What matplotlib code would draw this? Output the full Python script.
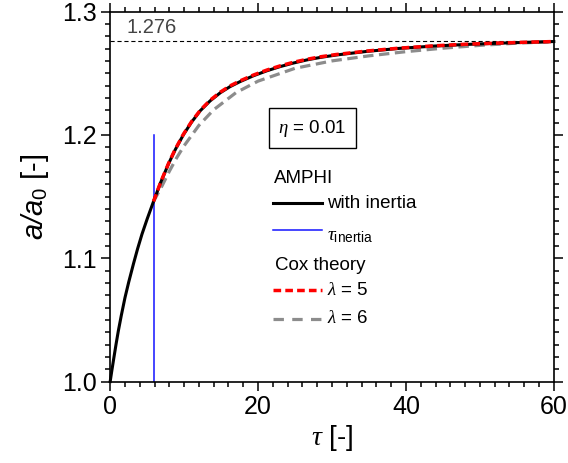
import matplotlib
matplotlib.use("Agg")
import matplotlib.pyplot as plt
from matplotlib.ticker import MultipleLocator, FormatStrFormatter

plt.rcParams['font.family'] = ['Liberation Sans', 'DejaVu Sans']
plt.rcParams['mathtext.fontset'] = 'custom'
plt.rcParams['mathtext.rm'] = 'Liberation Sans'
plt.rcParams['mathtext.it'] = 'Liberation Serif:italic'
plt.rcParams['mathtext.sf'] = 'Liberation Sans:italic'
plt.rcParams['lines.scale_dashes'] = False

# AMPHI simulation with inertia
tau_amphi = [0, 0.2, 0.45, 0.8, 1.1, 1.5, 2.0, 2.5, 3.15, 3.7, 4.3, 5.0, 5.86,
             6.8, 7.9, 8.8, 9.9, 11.0, 12.2, 13.5, 14.9, 16.2, 17.6, 19.4,
             21.2, 23.0, 24.8, 26.6, 28.4, 30.6, 34.7, 39.0, 43.7, 48.0,
             52.7, 56.0, 60.0]
a_amphi = [1.000, 1.008, 1.0175, 1.0305, 1.041, 1.0535, 1.068, 1.0805,
           1.0955, 1.1075, 1.1195, 1.1318, 1.146, 1.161, 1.1767, 1.188,
           1.2001, 1.2103, 1.2197, 1.2275, 1.2342, 1.2391, 1.2433, 1.248,
           1.252, 1.2554, 1.2583, 1.2608, 1.2628, 1.2648, 1.2677, 1.2701,
           1.272, 1.2733, 1.2744, 1.275, 1.2757]

# Cox theory, lambda = 5
tau_cox5 = [5.86, 6.8, 7.9, 8.8, 9.9, 11.0, 12.2, 13.5, 14.9, 16.2, 17.6,
            19.4, 21.2, 23.0, 24.8, 26.6, 28.4, 30.6, 34.7, 39.0, 43.7, 48.0,
            52.7, 56.0, 60.0]
a_cox5 = [1.146, 1.1612, 1.177, 1.1884, 1.2005, 1.2107, 1.2201, 1.228,
          1.2347, 1.2397, 1.2439, 1.2486, 1.2526, 1.256, 1.2589, 1.2613,
          1.2633, 1.2652, 1.268, 1.2703, 1.2722, 1.2735, 1.2745, 1.2751, 1.2757]

# Cox theory, lambda = 6
tau_cox6 = [5.86, 7.0, 8.0, 9.0, 10.0, 12.0, 14.0, 17.0, 20.0, 25.0, 30.0,
            35.0, 40.0, 45.0, 50.0, 55.0, 60.0]
a_cox6 = [1.146, 1.1585, 1.1705, 1.1815, 1.1912, 1.2077, 1.2204, 1.2342,
          1.2436, 1.254, 1.26, 1.2641, 1.2675, 1.2703, 1.2726, 1.2744, 1.2756]

tau_inertia = 5.86
inertia_marker_top = 1.2
a_limit = 1.276

fig = plt.figure(figsize=(5.68, 4.63), dpi=100)
ax = fig.add_axes([0.194, 0.176, 0.781, 0.799])

ax.axhline(a_limit, color='black', lw=0.8, dashes=(3, 2))
ax.text(2.2, 1.2867, '1.276', color='#444444', fontsize=14.5, va='center', ha='left')

ax.plot(tau_cox6, a_cox6, color='#8c8c8c', lw=2.3, dashes=(7.5, 4), zorder=3)
ax.plot(tau_amphi, a_amphi, color='black', lw=2.2, zorder=4, clip_on=False)
ax.plot([tau_inertia, tau_inertia], [1.0, inertia_marker_top], color='#1414ff', lw=1.1, zorder=2)
ax.plot(tau_cox5, a_cox5, color='#ff0000', lw=2.5, dashes=(5.5, 3), zorder=5)

ax.set_xlim(0, 60)
ax.set_ylim(1.0, 1.3)
ax.xaxis.set_major_locator(MultipleLocator(20))
ax.xaxis.set_minor_locator(MultipleLocator(2))
ax.yaxis.set_major_locator(MultipleLocator(0.1))
ax.yaxis.set_minor_locator(MultipleLocator(0.01))
ax.yaxis.set_major_formatter(FormatStrFormatter('%.1f'))
ax.tick_params(which='both', direction='out', top=True, right=True, width=1.1,
               labelsize=18)
ax.tick_params(which='major', length=6.5, pad=3)
ax.tick_params(which='minor', length=3.5)
for s in ax.spines.values():
    s.set_linewidth(1.2)

ax.set_xlabel(r'$\tau$ [-]', fontsize=20, labelpad=3)
ax.set_ylabel(r'$\mathsf{a/a}_{\mathrm{0}}$ [-]', fontsize=21, labelpad=8)

# eta box
ax.text(0.455, 0.685, r'$\eta$ = 0.01', transform=ax.transAxes, fontsize=13.5,
        ha='center', va='center',
        bbox=dict(boxstyle='square,pad=0.5', fc='white', ec='black', lw=1))

# hand-built legend
kx = [0.367, 0.4775]
tx = 0.489
ax.text(0.369, 0.55, 'AMPHI', transform=ax.transAxes, fontsize=13.5, va='center')
ax.plot(kx, [0.4824, 0.4824], transform=ax.transAxes, color='black', lw=2.2)
ax.text(tx, 0.4824, 'with inertia', transform=ax.transAxes, fontsize=13.5, va='center')
ax.plot(kx, [0.4095, 0.4095], transform=ax.transAxes, color='#1414ff', lw=1.1)
ax.text(tx, 0.393, r'$\tau_{\mathrm{inertia}}$', transform=ax.transAxes, fontsize=14, va='center')
ax.text(0.3716, 0.3149, 'Cox theory', transform=ax.transAxes, fontsize=13.5, va='center')
ax.plot(kx, [0.2473, 0.2473], transform=ax.transAxes, color='#ff0000', lw=2.5, dashes=(5.5, 3))
ax.text(tx, 0.2473, r'$\lambda$ = 5', transform=ax.transAxes, fontsize=13.5, va='center')
ax.plot(kx, [0.169, 0.169], transform=ax.transAxes, color='#8c8c8c', lw=2.3, dashes=(7.5, 6))
ax.text(tx, 0.169, r'$\lambda$ = 6', transform=ax.transAxes, fontsize=13.5, va='center')

fig.savefig('out.png', dpi=100)
